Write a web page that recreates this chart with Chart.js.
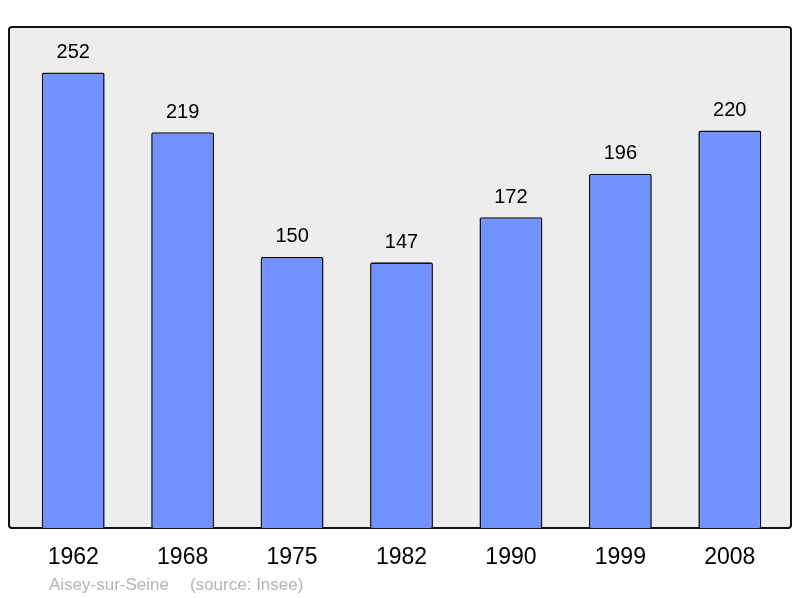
<!DOCTYPE html>
<html>
<head>
<meta charset="utf-8">
<script src="https://cdn.jsdelivr.net/npm/chart.js@4"></script>
<style>
    html, body { margin: 0; padding: 0; background: #fff; }
    #wrap { width: 800px; height: 598px; position: relative; }
</style>
</head>
<body>
<div id="wrap"><canvas id="popChart"></canvas></div>
<script>
// Population data
const years = ['1962', '1968', '1975', '1982', '1990', '1999', '2008'];
const population = [252, 219, 150, 147, 172, 196, 220];
const townName = 'Aisey-sur-Seine';
const sourceText = '(source: Insee)';

// Gray frame behind the bars
const framePlugin = {
    id: 'frame',
    beforeDraw(chart) {
        const ctx = chart.ctx;
        const area = chart.chartArea;
        const x0 = area.left - 9.5, x1 = area.right + 6.5;
        const y0 = area.top, y1 = area.bottom;
        ctx.save();
        ctx.beginPath();
        ctx.roundRect(x0, y0, x1 - x0, y1 - y0, 3);
        ctx.fillStyle = '#ededed';
        ctx.fill();
        ctx.lineWidth = 2;
        ctx.strokeStyle = '#111';
        ctx.stroke();
        ctx.restore();
    }
};

// Value labels, year labels and footer
const labelsPlugin = {
    id: 'labels',
    afterDatasetsDraw(chart) {
        const ctx = chart.ctx;
        const xScale = chart.scales.x;
        const yScale = chart.scales.y;
        ctx.save();
        ctx.textAlign = 'center';
        ctx.textBaseline = 'middle';
        ctx.fillStyle = '#000';
        ctx.font = '20px "Liberation Sans", Arial, sans-serif';
        population.forEach((v, i) => {
            ctx.fillText(String(v), xScale.getPixelForValue(i), yScale.getPixelForValue(v) - 20);
        });
        ctx.font = '23px "Liberation Sans", Arial, sans-serif';
        years.forEach((y, i) => {
            ctx.fillText(y, xScale.getPixelForValue(i), chart.chartArea.bottom + 30);
        });
        ctx.textAlign = 'left';
        ctx.fillStyle = '#b4b4b4';
        ctx.font = '17px "Liberation Sans", Arial, sans-serif';
        ctx.fillText(townName, 49, 585);
        ctx.fillText(sourceText, 190, 585);
        ctx.restore();
    }
};

new Chart(document.getElementById('popChart').getContext('2d'), {
    type: 'bar',
    data: {
        labels: years,
        datasets: [{
            data: population,
            backgroundColor: '#7093ff',
            borderColor: '#111',
            borderWidth: 1.6,
            borderSkipped: 'bottom',
            borderRadius: { topLeft: 2, topRight: 2 },
            barPercentage: 0.575,
            categoryPercentage: 1
        }]
    },
    options: {
        responsive: true,
        maintainAspectRatio: false,
        animation: false,
        devicePixelRatio: 1,
        layout: { padding: { left: 18.5, right: 15.5, top: 27, bottom: 70 } },
        plugins: {
            legend: { display: false },
            tooltip: { enabled: false }
        },
        scales: {
            x: { display: false },
            y: { display: false, min: 0, max: 277.2 }
        }
    },
    plugins: [framePlugin, labelsPlugin]
});
</script>
</body>
</html>
